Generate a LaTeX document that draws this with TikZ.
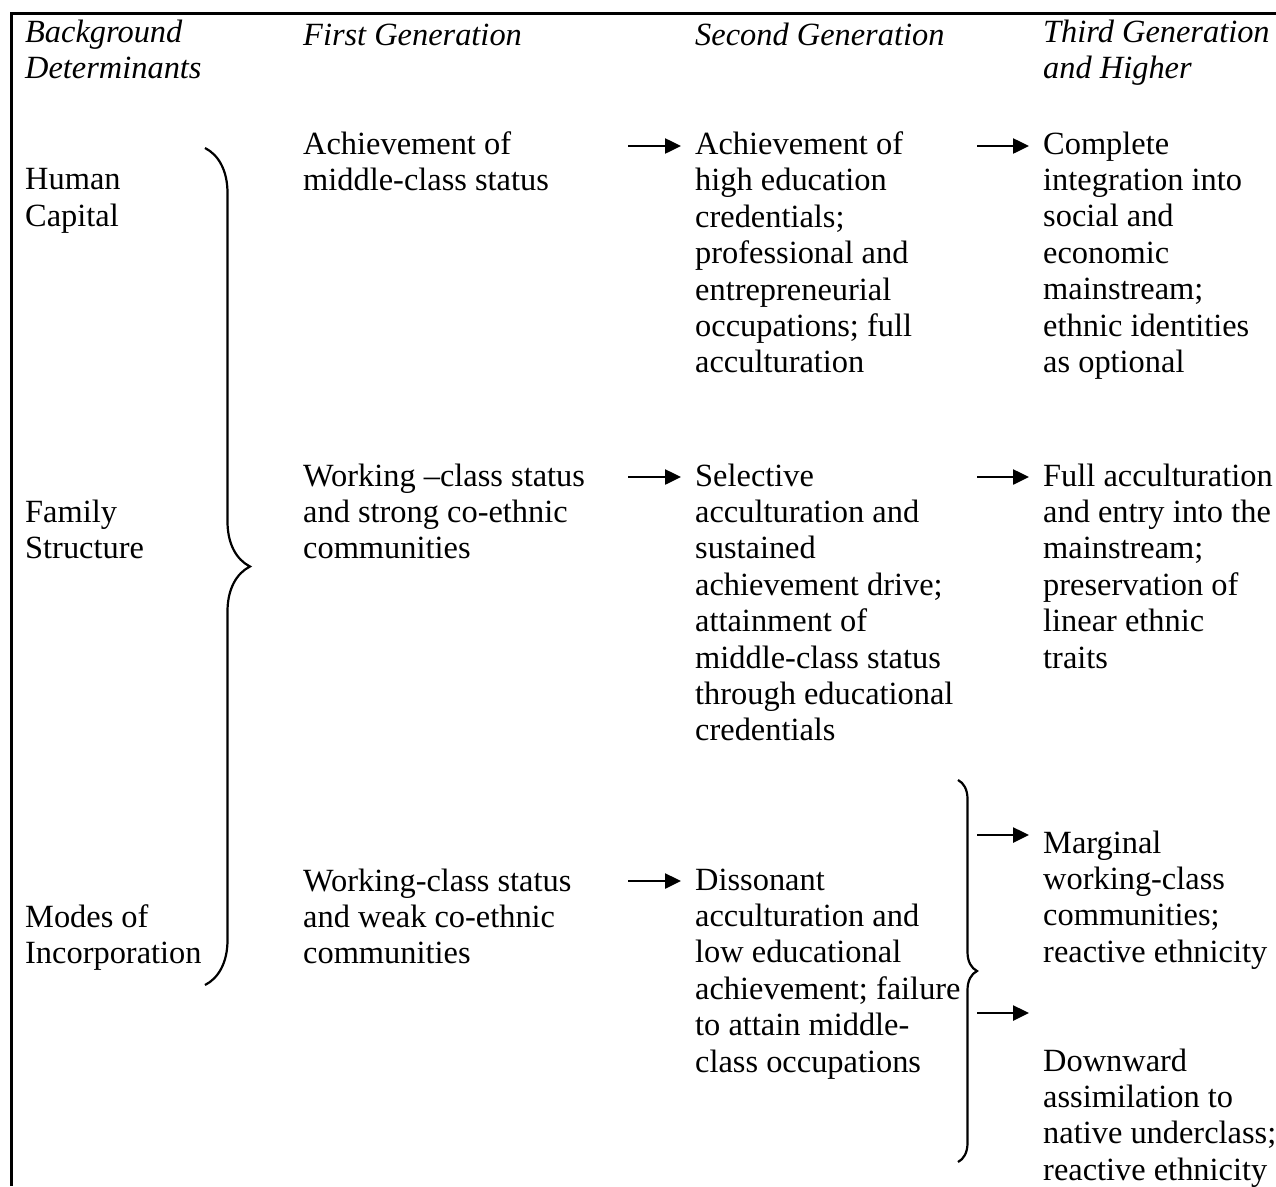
\documentclass[tikz,border=0pt]{standalone}
\usepackage{fontspec}
\setmainfont{Liberation Serif}
\usetikzlibrary{arrows.meta,decorations.pathreplacing}

\tikzset{
  cell/.style={anchor=north west, align=left, inner sep=0pt,
    font={\fontsize{32.4}{36.4}\selectfont}, execute at begin node={\strut}},
  head/.style={cell, font={\fontsize{32.4}{36.4}\selectfont\itshape}},
  flow/.style={-{Triangle[length=16pt,width=15pt]}, line width=2.5pt},
  bracket/.style={decorate, decoration={brace, amplitude=#1}, line width=2.2pt}
}

% first baseline at #1 -> top of the strut
\newcommand{\bl}[1]{#1-23.5}

\begin{document}
\begin{tikzpicture}[x=1pt, y=-1pt]
    \useasboundingbox (0,0) rectangle (1276,1186);

    % frame
    \draw[line width=3pt] (1276,13) -- (11,13) -- (11,1186);

    % headings
    \node[head] (bg) at (25,\bl{43}) {Background\\Determinants};
    \node[head] (g1) at (303,\bl{43}) {First Generation};
    \node[head] (g2) at (695,\bl{43}) {Second Generation};
    \node[head] (g3) at (1043,\bl{43}) {Third Generation\\and Higher};

    % background determinants
    \node[cell] (hc) at (25,\bl{192}) {Human\\Capital};
    \node[cell] (fs) at (25,\bl{523}) {Family\\Structure};
    \node[cell] (mi) at (25,\bl{928}) {Modes of\\Incorporation};
    \draw[bracket=45pt] (205,148) -- (205,985);

    % first generation
    \node[cell] (g1a) at (303,\bl{155}) {Achievement of\\middle-class status};
    \node[cell] (g1b) at (303,\bl{487}) {Working –class status\\and strong co-ethnic\\communities};
    \node[cell] (g1c) at (303,\bl{892}) {Working-class status\\and weak co-ethnic\\communities};

    % second generation
    \node[cell] (g2a) at (695,\bl{155}) {Achievement of\\high education\\credentials;\\professional and\\entrepreneurial\\occupations; full\\acculturation};
    \node[cell] (g2b) at (695,\bl{487}) {Selective\\acculturation and\\sustained\\achievement drive;\\attainment of\\middle-class status\\through educational\\credentials};
    \node[cell] (g2c) at (695,\bl{892}) {Dissonant\\acculturation and\\low educational\\achievement; failure\\to attain middle-\\class occupations};

    % third generation
    \node[cell] (g3a) at (1043,\bl{155}) {Complete\\integration into\\social and\\economic\\mainstream;\\ethnic identities\\as optional};
    \node[cell] (g3b) at (1043,\bl{487}) {Full acculturation\\and entry into the\\mainstream;\\preservation of\\linear ethnic\\traits};
    \node[cell] (g3c) at (1043,\bl{854}) {Marginal\\working-class\\communities;\\reactive ethnicity};
    \node[cell] (g3d) at (1043,\bl{1072}) {Downward\\assimilation to\\native underclass;\\reactive ethnicity};
    \draw[bracket=19pt] (958,780) -- (958,1162);

    % arrows
    \coordinate (a1) at (628,146);
    \coordinate (b1) at (681,146);
    \coordinate (c1) at (977,146);
    \coordinate (d1) at (1029,146);
    \coordinate (a2) at (628,477);
    \coordinate (b2) at (681,477);
    \coordinate (c2) at (977,477);
    \coordinate (d2) at (1029,477);
    \coordinate (a3) at (628,881);
    \coordinate (b3) at (681,881);
    \coordinate (c3) at (977,835);
    \coordinate (d3) at (1029,835);
    \coordinate (c4) at (977,1013);
    \coordinate (d4) at (1029,1013);
    \draw[flow] (a1) -- (b1);
    \draw[flow] (c1) -- (d1);
    \draw[flow] (a2) -- (b2);
    \draw[flow] (c2) -- (d2);
    \draw[flow] (a3) -- (b3);
    \draw[flow] (c3) -- (d3);
    \draw[flow] (c4) -- (d4);
\end{tikzpicture}
\end{document}
